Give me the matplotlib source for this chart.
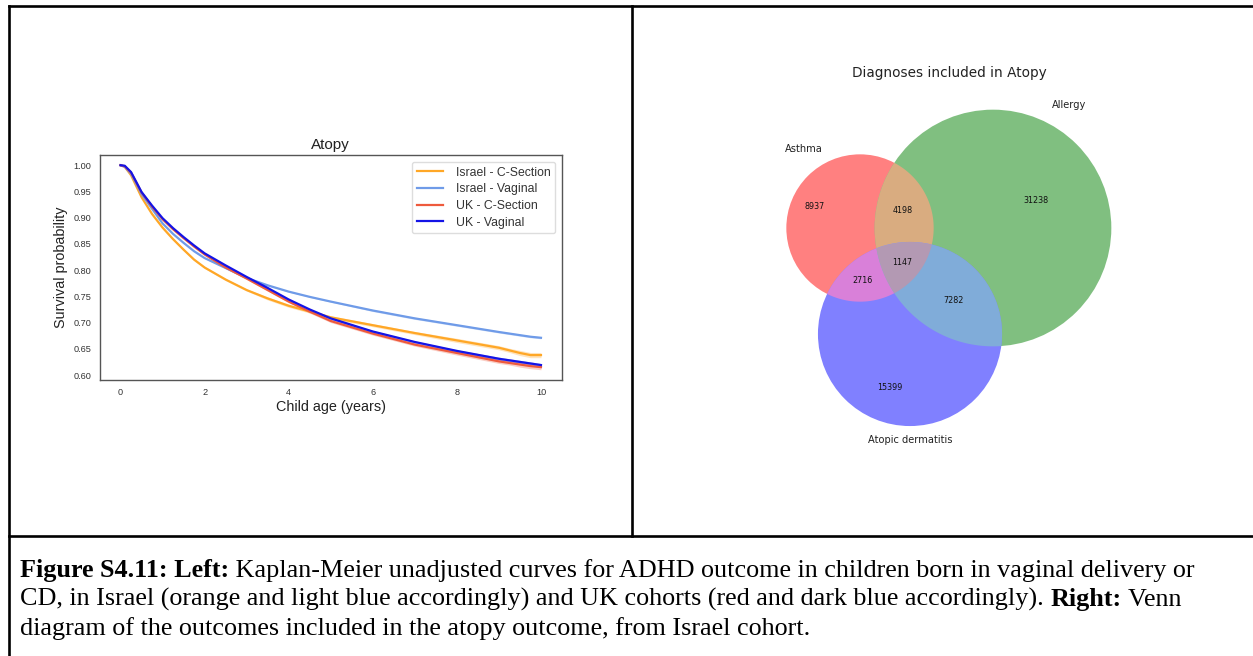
import numpy as np
import matplotlib
matplotlib.use("Agg")
from matplotlib import pyplot as plt
from matplotlib.lines import Line2D
from matplotlib.patches import Circle, Polygon
from matplotlib.text import Annotation

# ---- Kaplan-Meier curves ----
t = [0, 0.1, 0.25, 0.5, 0.75, 1, 1.25, 1.5, 1.75, 2, 2.5, 3, 3.5, 4, 4.5, 5, 6, 7, 8, 9, 9.25, 9.5, 9.75, 10]
israel_cs = [1.0, 0.997, 0.981, 0.939, 0.907, 0.881, 0.859, 0.839, 0.820, 0.805, 0.782, 0.762, 0.746,
             0.732, 0.721, 0.710, 0.695, 0.680, 0.666, 0.652, 0.647, 0.642, 0.638, 0.638]
israel_vag = [1.0, 0.997, 0.984, 0.945, 0.917, 0.889, 0.869, 0.852, 0.836, 0.823, 0.804, 0.785, 0.771,
              0.759, 0.749, 0.740, 0.723, 0.708, 0.695, 0.682, 0.679, 0.676, 0.673, 0.671]
uk_cs = [1.0, 0.998, 0.986, 0.948, 0.921, 0.897, 0.878, 0.861, 0.845, 0.830, 0.805, 0.784, 0.762,
         0.740, 0.721, 0.703, 0.679, 0.658, 0.642, 0.626, 0.623, 0.620, 0.617, 0.615]
uk_vag = [1.0, 0.999, 0.987, 0.949, 0.923, 0.899, 0.880, 0.863, 0.847, 0.832, 0.809, 0.787, 0.766,
          0.744, 0.725, 0.708, 0.683, 0.663, 0.646, 0.631, 0.628, 0.625, 0.622, 0.619]
# confidence half widths
ci_israel_cs = [0, 0.001, 0.001, 0.001, 0.002, 0.002, 0.002, 0.002, 0.002, 0.002, 0.002, 0.002, 0.003,
                0.003, 0.003, 0.003, 0.003, 0.003, 0.004, 0.004, 0.004, 0.005, 0.005, 0.005]
ci_israel_vag = [0, 0.001, 0.001, 0.001, 0.001, 0.001, 0.001, 0.001, 0.001, 0.001, 0.001, 0.001, 0.001,
                 0.001, 0.001, 0.001, 0.002, 0.002, 0.002, 0.002, 0.002, 0.002, 0.002, 0.002]
ci_uk_cs = [0, 0.001, 0.001, 0.001, 0.001, 0.001, 0.001, 0.001, 0.002, 0.002, 0.002, 0.002, 0.002,
            0.002, 0.003, 0.003, 0.003, 0.003, 0.004, 0.004, 0.004, 0.005, 0.005, 0.005]
ci_uk_vag = [0, 0.001, 0.001, 0.001, 0.001, 0.001, 0.001, 0.001, 0.001, 0.001, 0.001, 0.001, 0.001,
             0.001, 0.001, 0.002, 0.002, 0.002, 0.002, 0.003, 0.003, 0.003, 0.003, 0.003]
series_names = ["Israel - C-Section", "Israel - Vaginal", "UK - C-Section", "UK - Vaginal"]

# ---- Venn counts ----
set_names = ["Asthma", "Allergy", "Atopic dermatitis"]
only_a, only_b, only_c = 8937, 31238, 15399
ab, ac, bc, abc = 4198, 2716, 7282, 1147

W, H = 1253, 656
fig = plt.figure(figsize=(W / 100, H / 100), dpi=100)

# ---------------- left panel ----------------
ax = fig.add_axes([99.5 / W, 1 - 380 / H, (562 - 99.5) / W, (380 - 155) / H])
colors = ["#FFA726", "#6F9BE8", "#EE5A3C", "#1414E6"]
curves = [israel_cs, israel_vag, uk_cs, uk_vag]
cis = [ci_israel_cs, ci_israel_vag, ci_uk_cs, ci_uk_vag]
for y, ci, c, name in zip(curves, cis, colors, series_names):
    y = np.array(y)
    ci = np.array(ci)
    ax.fill_between(t, y - ci, y + ci, color=c, alpha=0.3, lw=0)
    ax.plot(t, y, color=c, lw=1.6, label=name)
ax.set_xticks([0, 2, 4, 6, 8, 10])
ax.set_yticks(np.arange(0.60, 1.001, 0.05))
ax.yaxis.set_major_formatter(matplotlib.ticker.FormatStrFormatter("%.2f"))
ax.tick_params(length=0, labelsize=6.6, labelcolor="#333333", pad=6)
for lab in ax.get_xticklabels() + ax.get_yticklabels():
    lab.set_family("Liberation Sans")
for s in ax.spines.values():
    s.set_color("#555555")
    s.set_linewidth(1.0)
ax.set_title("Atopy", fontsize=11, family="Liberation Sans", color="#222222", pad=4)
ax.set_xlabel("Child age (years)", fontsize=10.4, family="Liberation Sans", color="#222222", labelpad=2)
ax.set_ylabel("Survival probability", fontsize=10.4, family="Liberation Sans", color="#222222", labelpad=4)
leg = ax.legend(loc="upper right", prop={"family": "Liberation Sans", "size": 8.8},
                handlelength=2.2, labelspacing=0.38, borderaxespad=0.55, handletextpad=1.0,
                fancybox=True, framealpha=1)
leg.get_frame().set_edgecolor("#dddddd")
for txt in leg.get_texts():
    txt.set_color("#333333")

# ---------------- right panel: venn ----------------
vx0, vx1, vy0, vy1 = 633, 1253, 7, 534
vax = fig.add_axes([vx0 / W, 1 - vy1 / H, (vx1 - vx0) / W, (vy1 - vy0) / H])
vax.set_xlim(vx0, vx1)
vax.set_ylim(vy1, vy0)
vax.axis("off")

totals = [only_a + ab + ac + abc, only_b + ab + bc + abc, only_c + ac + bc + abc]
radii = [0.565 * np.sqrt(n) for n in totals]
centers = [np.array([860.0, 228.0]), np.array([993.0, 228.0]), np.array([910.0, 334.0])]
base = [np.array([1.0, 0, 0]), np.array([0, 0.5, 0]), np.array([0, 0, 1.0])]


def shade(c):
    return tuple(0.5 + 0.5 * np.clip(c, 0, 1))


def inside(p, idx):
    return np.hypot(p[:, 0] - centers[idx][0], p[:, 1] - centers[idx][1]) <= radii[idx] + 1e-6


def region_poly(ids):
    # intersections of circles are convex: collect boundary points and sort by angle
    pts = []
    ang = np.linspace(0, 2 * np.pi, 1440, endpoint=False)
    for i in ids:
        p = np.c_[centers[i][0] + radii[i] * np.cos(ang), centers[i][1] + radii[i] * np.sin(ang)]
        keep = np.ones(len(p), bool)
        for j in ids:
            if j != i:
                keep &= inside(p, j)
        pts.append(p[keep])
    pts = np.vstack(pts)
    m = pts.mean(axis=0)
    order = np.argsort(np.arctan2(pts[:, 1] - m[1], pts[:, 0] - m[0]))
    return pts[order]


for i in range(3):
    vax.add_patch(Circle(centers[i], radii[i], facecolor=shade(base[i]), edgecolor="none"))
for ids in [(0, 1), (0, 2), (1, 2)]:
    col = shade(0.7 * (base[ids[0]] + base[ids[1]]))
    vax.add_patch(Polygon(region_poly(ids), closed=True, facecolor=col, edgecolor="none"))
vax.add_patch(Polygon(region_poly((0, 1, 2)), closed=True,
                      facecolor=shade(0.4 * (base[0] + base[1] + base[2])), edgecolor="none"))

# region label positions from region centroids
gx, gy = np.meshgrid(np.arange(vx0, vx1, 1.0), np.arange(vy0, vy1, 1.0))
g = np.c_[gx.ravel(), gy.ravel()]
ins = [inside(g, i) for i in range(3)]
regions = {
    (1, 0, 0): only_a, (0, 1, 0): only_b, (0, 0, 1): only_c,
    (1, 1, 0): ab, (1, 0, 1): ac, (0, 1, 1): bc, (1, 1, 1): abc,
}
for key, val in regions.items():
    mask = np.ones(len(g), bool)
    for i in range(3):
        mask &= ins[i] if key[i] else ~ins[i]
    pos = g[mask].mean(axis=0)
    if sum(key) == 1:
        # single-set labels sit further out from their circle's centre
        ctr = centers[key.index(1)]
        pos = ctr + 1.85 * (pos - ctr)
    vax.text(pos[0], pos[1], str(val), ha="center", va="center", fontsize=5.8, color="#111111")

vfont = dict(fontsize=7.1, color="#222222")
vax.text(centers[0][0] - radii[0] / 2, centers[0][1] - radii[0], set_names[0], ha="right", va="bottom", **vfont)
vax.text(centers[1][0] + radii[1] / 2, centers[1][1] - radii[1], set_names[1], ha="left", va="bottom", **vfont)
vax.text(centers[2][0], centers[2][1] + radii[2] * 1.1, set_names[2], ha="center", va="top", **vfont)
vax.text(949, 73, "Diagnoses included in Atopy", ha="center", va="center", fontsize=9.8, color="#222222")


# ---------------- table borders ----------------
def hline(y, x0, x1):
    fig.add_artist(Line2D([x0 / W, x1 / W], [1 - y / H, 1 - y / H], color="black", lw=1.9,
                          transform=fig.transFigure, solid_capstyle="projecting"))


def vline(x, y0, y1):
    fig.add_artist(Line2D([x / W, x / W], [1 - y0 / H, 1 - y1 / H], color="black", lw=1.9,
                          transform=fig.transFigure, solid_capstyle="projecting"))


hline(6, 8.5, W)
hline(535.7, 8.5, W)
vline(8.5, 6, H)
vline(632, 6, 535.7)

# ---------------- caption ----------------
cap_lines = [
    [("Figure S4.11: Left:", "bold"),
     (" Kaplan-Meier unadjusted curves for ADHD outcome in children born in vaginal delivery or", "normal")],
    [("CD, in Israel (orange and light blue accordingly) and UK cohorts (red and dark blue accordingly). ", "normal"),
     ("Right:", "bold"), (" Venn", "normal")],
    [("diagram of the outcomes included in the atopy outcome, from Israel cohort.", "normal")],
]
baselines = [577, 606, 635]
for segs, yb in zip(cap_lines, baselines):
    prev = None
    for txt, wt in segs:
        kw = dict(fontsize=18.8, family="Liberation Serif", weight=wt, color="black",
                  va="baseline", ha="left")
        if prev is None:
            prev = fig.text(20 / W, 1 - yb / H, txt, **kw)
        else:
            prev = fig.add_artist(Annotation(txt, xy=(1, 1 - yb / H), xycoords=(prev, fig.transFigure),
                                             annotation_clip=False, **kw))

fig.savefig("out.png", dpi=100)
